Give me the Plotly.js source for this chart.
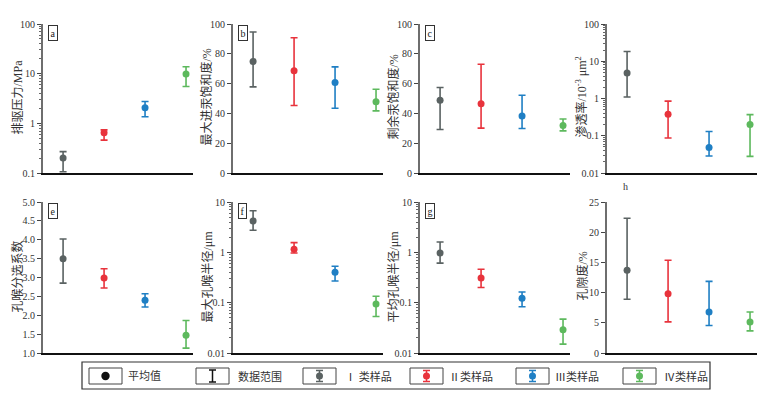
<!DOCTYPE html>
<html>
<head>
<meta charset="utf-8">
<script src="https://cdn.plot.ly/plotly-3.0.1.min.js"></script>
<style>html,body{margin:0;padding:0;background:#fff;}#chart{width:773px;height:398px;}</style>
</head>
<body>
<div id="chart"></div>
<script>
// ---------- data ----------
const categories = ['Ⅰ类样品', 'Ⅱ类样品', 'Ⅲ类样品', 'Ⅳ类样品'];
const classPos = [1, 2, 3, 4];
const classColors = ['#5a6262', '#e8333c', '#1f7fc4', '#5db95d'];

// a 排驱压力/MPa
const pressureMean = [0.20, 0.65, 2.05, 9.8];
const pressureMin  = [0.106, 0.46, 1.36, 5.5];
const pressureMax  = [0.27, 0.74, 2.75, 13.8];
// b 最大进汞饱和度/%
const maxHgMean = [74.8, 68.7, 60.7, 47.8];
const maxHgMin  = [57.8, 45.3, 43.5, 41.7];
const maxHgMax  = [94.6, 90.8, 71.2, 56.2];
// c 剩余汞饱和度/%
const resHgMean = [48.9, 46.4, 38.2, 31.9];
const resHgMin  = [29.2, 30.1, 29.9, 28.3];
const resHgMax  = [57.4, 73.0, 52.2, 36.2];
// d 渗透率/10^-3 μm^2
const permMean = [4.8, 0.38, 0.048, 0.20];
const permMin  = [1.1, 0.087, 0.0285, 0.028];
const permMax  = [18.2, 0.85, 0.13, 0.37];
// e 孔喉分选系数
const sortMean = [3.50, 2.99, 2.40, 1.47];
const sortMin  = [2.85, 2.72, 2.22, 1.13];
const sortMax  = [4.02, 3.23, 2.57, 1.86];
// f 最大孔喉半径/μm
const maxRMean = [4.2, 1.15, 0.40, 0.094];
const maxRMin  = [2.75, 0.97, 0.27, 0.053];
const maxRMax  = [6.7, 1.56, 0.53, 0.134];
// g 平均孔喉半径/μm
const avgRMean = [0.97, 0.31, 0.122, 0.029];
const avgRMin  = [0.61, 0.20, 0.083, 0.015];
const avgRMax  = [1.6, 0.46, 0.163, 0.047];
// h 孔隙度/%
const poroMean = [13.7, 9.8, 6.8, 5.15];
const poroMin  = [8.9, 5.15, 4.55, 3.66];
const poroMax  = [22.3, 15.35, 11.86, 6.8];

const legendLabels = ['平均值', '数据范围', 'Ⅰ 类样品', 'Ⅱ类样品', 'Ⅲ类样品', 'Ⅳ类样品'];

// ---------- layout helpers ----------
const W = 773, H = 398;
const px = x => x / W;
const py = y => 1 - y / H;
const serif = '"Liberation Serif", "Times New Roman", "Noto Sans CJK SC", serif';

const colX = [[43, 193], [233, 383], [420, 570], [607, 757]];
const rowY = [[24, 173], [202, 353]];

const panels = [
  {mean: pressureMean, min: pressureMin, max: pressureMax, title: '排驱压力/MPa', log: true, range: [-1, 2], tv: [0.1, 1, 10, 100], tt: ['0.1', '1', '10', '100'], label: 'a', tx: 18},
  {mean: maxHgMean, min: maxHgMin, max: maxHgMax, title: '最大进汞饱和度/%', log: false, range: [0, 100], dtick: 20, label: 'b', tx: 206},
  {mean: resHgMean, min: resHgMin, max: resHgMax, title: '剩余汞饱和度/%', log: false, range: [0, 100], dtick: 20, label: 'c', tx: 393},
  {mean: permMean, min: permMin, max: permMax, title: '渗透率/10<sup>-3</sup> μm<sup>2</sup>', log: true, range: [-2, 2], tv: [0.01, 0.1, 1, 10, 100], tt: ['0.01', '0.1', '1', '10', '100'], label: null, tx: 581},
  {mean: sortMean, min: sortMin, max: sortMax, title: '孔喉分选系数', log: false, range: [1, 5], dtick: 0.5, fmt: '.1f', label: 'e', tx: 17},
  {mean: maxRMean, min: maxRMin, max: maxRMax, title: '最大孔喉半径/μm', log: true, range: [-2, 1], tv: [0.01, 0.1, 1, 10], tt: ['0.01', '0.1', '1', '10'], label: 'f', tx: 207},
  {mean: avgRMean, min: avgRMin, max: avgRMax, title: '平均孔喉半径/μm', log: true, range: [-2, 1], tv: [0.01, 0.1, 1, 10], tt: ['0.01', '0.1', '1', '10'], label: 'g', tx: 393},
  {mean: poroMean, min: poroMin, max: poroMax, title: '孔隙度/%', log: false, range: [0, 25], dtick: 5, label: null, tx: 582}
];

const traces = [];
const layout = {
  width: W, height: H,
  margin: {l: 0, r: 0, t: 0, b: 0},
  paper_bgcolor: '#fff', plot_bgcolor: '#fff',
  showlegend: false,
  font: {family: serif, size: 10, color: '#333'},
  annotations: [],
  shapes: []
};

panels.forEach((p, i) => {
  const r = Math.floor(i / 4), c = i % 4;
  const n = i + 1;
  const xa = 'xaxis' + (n === 1 ? '' : n), ya = 'yaxis' + (n === 1 ? '' : n);
  const xr = 'x' + (n === 1 ? '' : n), yr = 'y' + (n === 1 ? '' : n);
  categories.forEach((cat, k) => {
    traces.push({
      type: 'scatter', mode: 'markers',
      x: [classPos[k]], y: [p.mean[k]],
      name: cat, xaxis: xr, yaxis: yr,
      marker: {color: classColors[k], size: 7},
      error_y: {type: 'data', symmetric: false,
        array: [p.max[k] - p.mean[k]], arrayminus: [p.mean[k] - p.min[k]],
        color: classColors[k], thickness: 1.6, width: 3.5},
      cliponaxis: false,
      hoverinfo: 'y'
    });
  });
  layout[xa] = {
    domain: [px(colX[c][0]), px(colX[c][1])],
    anchor: yr, range: [0.51, 4.17],
    showgrid: false, zeroline: false, showticklabels: false, ticks: '',
    showline: true, linecolor: '#111', linewidth: 1.5, fixedrange: true
  };
  const yax = {
    domain: [py(rowY[r][1]), py(rowY[r][0])],
    anchor: xr,
    showgrid: false, zeroline: false,
    showline: true, linecolor: '#6e6e6e', linewidth: 2,
    ticks: 'outside', ticklen: 4, tickwidth: 1, tickcolor: '#444',
    tickfont: {family: serif, size: 10, color: '#333'},
    fixedrange: true
  };
  if (p.log) {
    yax.type = 'log';
    yax.range = p.range;
    yax.tickvals = p.tv;
    yax.ticktext = p.tt;
    yax.minor = {ticks: 'outside', ticklen: 2, tickwidth: 1, tickcolor: '#666', dtick: 'D1', showgrid: false};
  } else {
    yax.range = p.range;
    yax.dtick = p.dtick;
    yax.tick0 = p.range[0];
    if (p.fmt) yax.tickformat = p.fmt;
  }
  layout[ya] = yax;

  // y-axis title
  layout.annotations.push({
    xref: 'paper', yref: 'paper',
    x: px(p.tx), y: py((rowY[r][0] + rowY[r][1]) / 2 - 1),
    text: p.title, textangle: -90, showarrow: false,
    xanchor: 'center', yanchor: 'middle',
    font: {family: serif, size: 12, color: '#333'}
  });
  // panel label box
  if (p.label) {
    layout.annotations.push({
      xref: 'paper', yref: 'paper',
      x: px(colX[c][0] + 5), y: py(rowY[r][0] + 1),
      xanchor: 'left', yanchor: 'top',
      text: p.label, showarrow: false,
      bordercolor: '#333', borderwidth: 1, borderpad: 1.5,
      font: {family: serif, size: 10, color: '#222'}
    });
  }
});

// stray label under panel d
layout.annotations.push({
  xref: 'paper', yref: 'paper', x: px(625), y: py(186),
  text: 'h', showarrow: false, xanchor: 'center', yanchor: 'middle',
  font: {family: serif, size: 10, color: '#333'}
});

// ---------- legend (drawn as decoration) ----------
layout.shapes.push({type: 'rect', xref: 'paper', yref: 'paper',
  x0: px(82), x1: px(710), y0: py(389), y1: py(362),
  line: {color: '#333', width: 1.2}, fillcolor: 'rgba(0,0,0,0)'});

const boxL = [89, 196, 303, 410, 516, 623];
const textL = [126, 236, 343, 447, 553, 662];
const bw = 33, by0 = 368, by1 = 384, cy = 376;
const symColors = ['#111', '#111'].concat(classColors);

boxL.forEach((bx, i) => {
  layout.shapes.push({type: 'rect', xref: 'paper', yref: 'paper',
    x0: px(bx), x1: px(bx + bw), y0: py(by1), y1: py(by0),
    line: {color: '#444', width: 1}, fillcolor: 'rgba(0,0,0,0)'});
  const cx = bx + bw / 2;
  const col = symColors[i];
  if (i !== 0) {
    const half = i === 1 ? 6 : 5.5;
    layout.shapes.push({type: 'line', xref: 'paper', yref: 'paper',
      x0: px(cx), x1: px(cx), y0: py(cy + half), y1: py(cy - half), line: {color: col, width: 1.5}});
    [cy - half, cy + half].forEach(yy => {
      layout.shapes.push({type: 'line', xref: 'paper', yref: 'paper',
        x0: px(cx - 3.5), x1: px(cx + 3.5), y0: py(yy), y1: py(yy), line: {color: col, width: 1.5}});
    });
  }
  if (i !== 1) {
    const rad = i === 0 ? 4.2 : 3.5;
    layout.shapes.push({type: 'circle', xref: 'paper', yref: 'paper',
      x0: px(cx - rad), x1: px(cx + rad), y0: py(cy + rad), y1: py(cy - rad),
      line: {color: col, width: 0}, fillcolor: col});
  }
  layout.annotations.push({
    xref: 'paper', yref: 'paper', x: px(textL[i]), y: py(cy),
    xanchor: 'left', yanchor: 'middle', text: legendLabels[i], showarrow: false,
    font: {family: serif, size: 11, color: '#333'}
  });
});

Plotly.newPlot('chart', traces, layout, {displayModeBar: false, staticPlot: true});
</script>
</body>
</html>
